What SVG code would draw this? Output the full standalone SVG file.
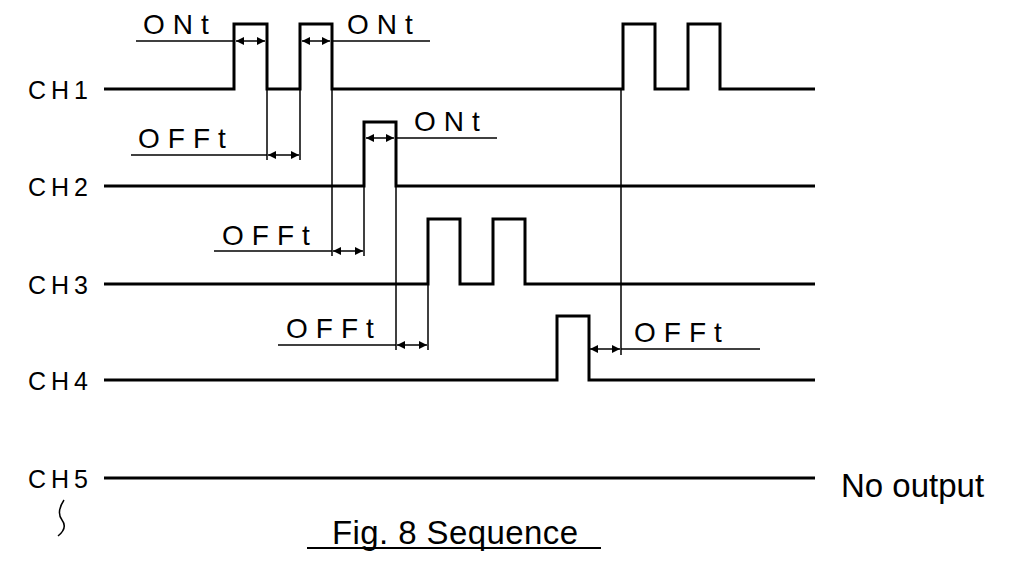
<svg xmlns="http://www.w3.org/2000/svg" width="1010" height="577" viewBox="0 0 1010 577">
<defs>
<marker id="a" viewBox="0 0 10 10" refX="10" refY="5" markerWidth="12" markerHeight="8" orient="auto-start-reverse" markerUnits="userSpaceOnUse"><path d="M0,0 L10,5 L0,10 Z" fill="#000"/></marker>
</defs>
<style>
.sig{fill:none;stroke:#000;stroke-width:3}
.thin{fill:none;stroke:#000;stroke-width:1.5}
.dim{stroke:#000;stroke-width:1.5;marker-start:url(#a);marker-end:url(#a)}
.lab{font-family:"Liberation Sans",sans-serif;font-size:28px;letter-spacing:8px;fill:#000}
.ch{font-family:"Liberation Sans",sans-serif;font-size:25px;letter-spacing:5px;fill:#000}
.big{font-family:"Liberation Sans",sans-serif;font-size:33px;fill:#000}
</style>
<g id="signals">
<path class="sig" d="M104,89 H234 V24 H267 V89 H300 V24 H332 V89 H623 V24 H655 V89 H688 V24 H720 V89 H815"/>
<path class="sig" d="M104,186 H364 V122 H396 V186 H815"/>
<path class="sig" d="M104,284 H428 V219 H460 V284 H493 V219 H525 V284 H815"/>
<path class="sig" d="M104,380 H557 V316 H589 V380 H815"/>
<path class="sig" d="M104,478 H815"/>
</g>
<g id="connectors">
<line class="thin" x1="136" y1="41" x2="234" y2="41"/>
<line class="dim" x1="236" y1="41" x2="265" y2="41"/>
<line class="dim" x1="302" y1="41" x2="330" y2="41"/>
<line class="thin" x1="332" y1="41" x2="430" y2="41"/>
<line class="thin" x1="267" y1="89" x2="267" y2="160"/>
<line class="thin" x1="300" y1="89" x2="300" y2="160"/>
<line class="thin" x1="131" y1="155" x2="267" y2="155"/>
<line class="dim" x1="268" y1="155" x2="299" y2="155"/>
<line class="dim" x1="366" y1="138" x2="394" y2="138"/>
<line class="thin" x1="396" y1="138" x2="497" y2="138"/>
<line class="thin" x1="332" y1="89" x2="332" y2="256"/>
<line class="thin" x1="364" y1="186" x2="364" y2="256"/>
<line class="thin" x1="214" y1="251" x2="332" y2="251"/>
<line class="dim" x1="333" y1="251" x2="363" y2="251"/>
<line class="thin" x1="396" y1="186" x2="396" y2="350"/>
<line class="thin" x1="428" y1="284" x2="428" y2="350"/>
<line class="thin" x1="278" y1="345" x2="396" y2="345"/>
<line class="dim" x1="397" y1="345" x2="427" y2="345"/>
<line class="thin" x1="621" y1="89" x2="621" y2="355"/>
<line class="dim" x1="590" y1="349" x2="620" y2="349"/>
<line class="thin" x1="621" y1="349" x2="760" y2="349"/>
<path class="thin" d="M64,500 Q56,512 62,520 Q68,528 58,536"/>
<line x1="307" y1="548" x2="601" y2="548" stroke="#000" stroke-width="2"/>
</g>
<g id="labels">
<text class="lab" x="143" y="34">ONt</text>
<text class="lab" x="347" y="34">ONt</text>
<text class="lab" x="138" y="148">OFFt</text>
<text class="lab" x="414" y="131">ONt</text>
<text class="lab" x="222" y="245">OFFt</text>
<text class="lab" x="286" y="338">OFFt</text>
<text class="lab" x="634" y="342">OFFt</text>
<text class="ch" x="28" y="99">CH1</text>
<text class="ch" x="28" y="196">CH2</text>
<text class="ch" x="28" y="294">CH3</text>
<text class="ch" x="28" y="390">CH4</text>
<text class="ch" x="28" y="488">CH5</text>
<text class="big" x="841" y="497">No output</text>
<text class="big" x="332" y="544" textLength="246">Fig. 8 Sequence</text>
</g>
</svg>
